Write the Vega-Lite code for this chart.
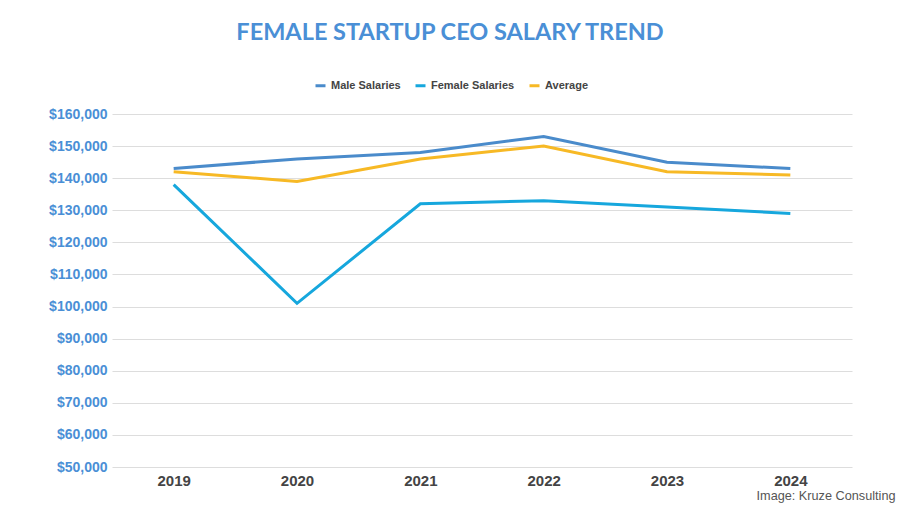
{
  "$schema": "https://vega.github.io/schema/vega-lite/v6.json",
  "autosize": "none",
  "width": 740,
  "height": 353,
  "padding": {"left": 112, "top": 114, "right": 48, "bottom": 40},
  "background": "white",
  "title": {
    "text": "FEMALE STARTUP CEO SALARY TREND",
    "font": "Lato",
    "fontSize": 23.5,
    "fontWeight": "bold",
    "color": "#4a8fd6",
    "anchor": "middle",
    "frame": "group",
    "dx": -32,
    "offset": 35
  },
  "data": {
    "values": [
      {"year": "2019", "series": "Male Salaries", "salary": 143000},
      {"year": "2020", "series": "Male Salaries", "salary": 146000},
      {"year": "2021", "series": "Male Salaries", "salary": 148000},
      {"year": "2022", "series": "Male Salaries", "salary": 153000},
      {"year": "2023", "series": "Male Salaries", "salary": 145000},
      {"year": "2024", "series": "Male Salaries", "salary": 143000},
      {"year": "2019", "series": "Female Salaries", "salary": 138000},
      {"year": "2020", "series": "Female Salaries", "salary": 101000},
      {"year": "2021", "series": "Female Salaries", "salary": 132000},
      {"year": "2022", "series": "Female Salaries", "salary": 133000},
      {"year": "2023", "series": "Female Salaries", "salary": 131000},
      {"year": "2024", "series": "Female Salaries", "salary": 129000},
      {"year": "2019", "series": "Average", "salary": 142000},
      {"year": "2020", "series": "Average", "salary": 139000},
      {"year": "2021", "series": "Average", "salary": 146000},
      {"year": "2022", "series": "Average", "salary": 150000},
      {"year": "2023", "series": "Average", "salary": 142000},
      {"year": "2024", "series": "Average", "salary": 141000}
    ]
  },
  "mark": {"type": "line", "strokeWidth": 3},
  "encoding": {
    "x": {
      "field": "year",
      "type": "ordinal",
      "scale": {"type": "point", "padding": 0.5},
      "axis": {
        "title": "Image: Kruze Consulting",
        "titleFont": "Liberation Sans",
        "titleFontSize": 12.7,
        "titleFontWeight": "normal",
        "titleColor": "#555555",
        "titleAnchor": "end",
        "titleAlign": "right",
        "titleBaseline": "middle",
        "titleX": 783,
        "titleY": 28,
        "labelAngle": 0,
        "labelFont": "Liberation Sans",
        "labelFontSize": 15,
        "labelFontWeight": "bold",
        "labelColor": "#444444",
        "labelPadding": 6,
        "ticks": false,
        "domain": false,
        "grid": false
      }
    },
    "y": {
      "field": "salary",
      "type": "quantitative",
      "scale": {"domain": [50000, 160000], "nice": false, "zero": false},
      "axis": {
        "title": null,
        "values": [50000, 60000, 70000, 80000, 90000, 100000, 110000, 120000, 130000, 140000, 150000, 160000],
        "format": "$,.0f",
        "labelFont": "Liberation Sans",
        "labelFontSize": 14,
        "labelFontWeight": "bold",
        "labelColor": "#4a8fd6",
        "labelPadding": 5,
        "ticks": false,
        "domain": false,
        "grid": true,
        "gridColor": "#dddddd",
        "gridWidth": 1
      }
    },
    "color": {
      "field": "series",
      "type": "nominal",
      "scale": {
        "domain": ["Male Salaries", "Female Salaries", "Average"],
        "range": ["#4a8bcb", "#16a7dd", "#f7b925"]
      },
      "legend": {
        "title": null,
        "orient": "none",
        "direction": "horizontal",
        "legendX": 202,
        "legendY": -35,
        "symbolType": "stroke",
        "symbolSize": 100,
        "symbolStrokeWidth": 3,
        "labelFont": "Liberation Sans",
        "labelFontSize": 11,
        "labelFontWeight": "bold",
        "labelColor": "#444444",
        "columnPadding": 8,
        "labelOffset": 4
      }
    }
  },
  "config": {"view": {"stroke": null}}
}
